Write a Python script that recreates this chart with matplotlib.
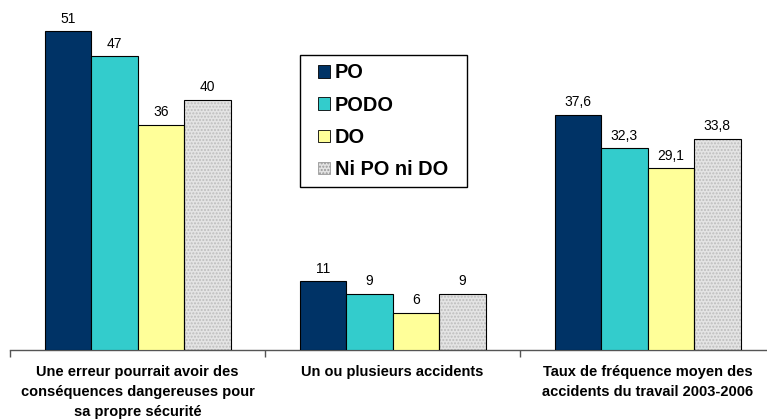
import numpy as np
import matplotlib
matplotlib.use('Agg')
import matplotlib.pyplot as plt
from matplotlib.patches import Patch, Rectangle

plt.rcParams['font.family'] = ['Liberation Sans', 'DejaVu Sans']

categories = ['Une erreur pourrait avoir des\nconséquences dangereuses pour\nsa propre sécurité',
              'Un ou plusieurs accidents',
              'Taux de fréquence moyen des\naccidents du travail 2003-2006']
series = ['PO', 'PODO', 'DO', 'Ni PO ni DO']
values = [[51, 11, 37.6],
          [47, 9, 32.3],
          [36, 6, 29.1],
          [40, 9, 33.8]]
labels = [['51', '11', '37,6'],
          ['47', '9', '32,3'],
          ['36', '6', '29,1'],
          ['40', '9', '33,8']]
colors = ['#003366', '#33CCCC', '#FFFF99', '#E4E4E4']

W, H = 767, 419
fig = plt.figure(figsize=(W / 100, H / 100), dpi=100)
ax = fig.add_axes([10 / W, 69 / H, 757 / W, 350 / H])

x = np.arange(len(categories))
bw = 46.5 / 255
for i, s in enumerate(series):
    xs = x + (i - 1.5) * bw
    if i == 3:
        ax.bar(xs, values[i], bw, color=colors[i], edgecolor='#BDBDBD',
               hatch='.....', linewidth=0, zorder=2)
        ax.bar(xs, values[i], bw, fill=False, edgecolor='black',
               linewidth=0.8, zorder=3)
    else:
        ax.bar(xs, values[i], bw, color=colors[i], edgecolor='black',
               linewidth=0.8, zorder=3)
    for xx, v, t in zip(xs, values[i], labels[i]):
        ax.annotate(t, (xx, v), xytext=(0, 4), textcoords='offset points',
                    ha='center', va='bottom', fontsize=10)

ax.set_xlim(-0.5, -0.5 + 757 / 255)
ax.set_ylim(0, 56)
for sp in ['top', 'right', 'left']:
    ax.spines[sp].set_visible(False)
ax.spines['bottom'].set_color('#555555')
ax.spines['bottom'].set_linewidth(1)
ax.set_yticks([])
ax.set_xticks([-0.5, 0.5, 1.5])
ax.set_xticklabels([])
ax.tick_params(axis='x', length=5, color='#555555', width=1)

for xx, c in zip(x, categories):
    ax.text(xx, -0.042, c, transform=ax.get_xaxis_transform(), ha='center',
            va='top', fontsize=10.5, fontweight='bold', linespacing=1.56)

# legend box
fig.patches.append(Rectangle((300 / W, 1 - 187 / H), 167 / W, 132 / H,
                             transform=fig.transFigure, facecolor='white',
                             edgecolor='black', linewidth=1, zorder=5))
handles = [Patch(facecolor=c, edgecolor='black', linewidth=0.6) for c in colors]
handles[3] = Patch(facecolor=colors[3], edgecolor='#999999', linewidth=0.6, hatch='.....')
leg = fig.legend(handles, series, loc='upper left',
                 bbox_to_anchor=(318 / W, 1 - 63.5 / H), frameon=False,
                 prop={'size': 14.4, 'weight': 'bold'},
                 handlelength=0.6, handleheight=0.6, handletextpad=0.25,
                 labelspacing=0.66, borderpad=0.0, borderaxespad=0)
leg.set_zorder(6)

fig.savefig('out.png', dpi=100)
